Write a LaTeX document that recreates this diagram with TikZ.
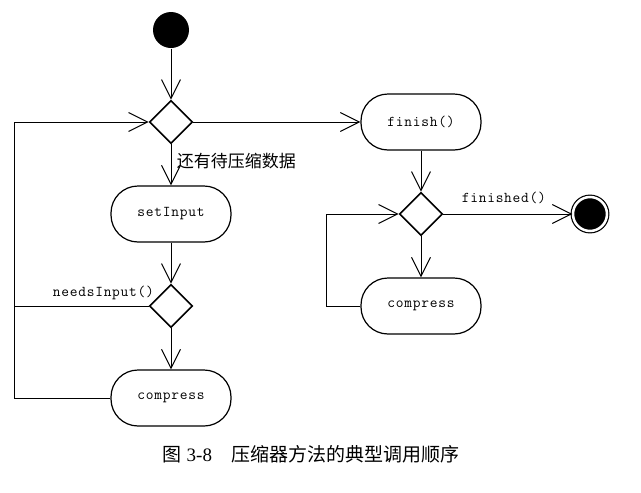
\documentclass[tikz,border=0pt]{standalone}
\usepackage{fontspec}
\setmainfont{Liberation Serif}
\setmonofont{Latin Modern Mono}[LetterSpace=5]
\newfontfamily\cjk{Noto Sans CJK SC}
\usepackage{tikz}
\usetikzlibrary{arrows.meta,shapes.geometric,positioning}

\begin{document}
\begin{tikzpicture}[node distance=92pt, >={Straight Barb[length=19pt,width=19pt]}, line width=1pt,
    act/.style={rectangle, draw, rounded corners=27pt, minimum width=120pt, minimum height=56pt,
        line width=1.2pt, font=\ttfamily\fontsize{15}{17}\selectfont},
    dec/.style={diamond, draw, minimum width=43pt, minimum height=43pt, inner sep=0pt, line width=1.6pt},
    startnode/.style={circle, fill=black, minimum size=36pt, inner sep=0pt},
    endnode/.style={circle, draw, fill=black, double=white, double distance=2.5pt, line width=1.2pt,
        minimum size=34pt, inner sep=0pt},
    lbl/.style={font=\ttfamily\fontsize{15}{17}\selectfont},
    cjklbl/.style={font=\cjk\fontsize{17}{19}\selectfont}]

    \useasboundingbox (0,0) rectangle (641pt,-493pt);

    % left column
    \node[startnode] (start) at (171pt,-30pt) {};
    \node[dec, below of=start] (d1) {};
    \node[act, below of=d1] (setin) {setInput};
    \node[dec, below of=setin] (d2) {};
    \node[act, below of=d2] (cmp1) {compress};
    \coordinate[left of=cmp1, node distance=157pt] (lbend);

    % right column
    \node[act, right of=d1, node distance=250pt] (fin) {finish()};
    \node[dec, below of=fin] (d3) {};
    \node[act, below of=d3] (cmp2) {compress};
    \node[endnode, right of=d3, node distance=169pt] (end) {};
    \coordinate[left of=cmp2, node distance=95pt] (rbend);

    \draw[->] (start) -- (d1);
    \draw[->] (d1) -- node[cjklbl, pos=0.4, right, xshift=2pt] {还有待压缩数据} (setin);
    \draw[->] (setin) -- (d2);
    \draw[->] (d2) -- (cmp1);
    \draw (d2.west) -- node[lbl, pos=0, above left, xshift=9pt, yshift=2pt] {needsInput()} (d2.west -| lbend);
    \draw[->] (cmp1.west) -- (lbend) |- (d1.west);

    \draw[->] (d1) -- (fin);
    \draw[->] (fin) -- (d3);
    \draw[->] (d3) -- (cmp2);
    \draw[->] (d3) -- node[lbl, above, yshift=6pt, xshift=-4pt] {finished()} (end);
    \draw[->] (cmp2.west) -- (rbend) |- (d3.west);

    % caption
    \node[font=\fontsize{19}{21}\selectfont] (cap) at (311pt,-454pt)
        {{\cjk 图} 3-8\quad{\cjk 压缩器方法的典型调用顺序}};
\end{tikzpicture}
\end{document}
